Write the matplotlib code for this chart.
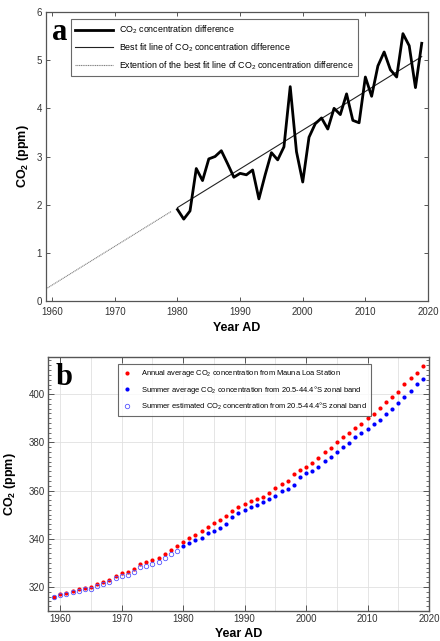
"""
Two-panel CO2 figure: (a) annual minus summer CO2 difference with its linear
trend, (b) Mauna Loa annual means vs. 20.5-44.4 S summer concentrations.
"""
import matplotlib
matplotlib.use('Agg')
import matplotlib.pyplot as plt
import numpy as np
from matplotlib.ticker import MultipleLocator

plt.rcParams['font.family'] = ['Liberation Sans', 'DejaVu Sans']
plt.rcParams['mathtext.fontset'] = 'custom'
plt.rcParams['mathtext.rm'] = 'Liberation Sans'
plt.rcParams['mathtext.it'] = 'Liberation Sans:italic'
plt.rcParams['mathtext.bf'] = 'Liberation Sans:bold'

# Mauna Loa annual mean CO2 (ppm), 1959-2019
years = np.arange(1959, 2020)
mauna_loa = [315.98, 316.91, 317.64, 318.45, 318.99, 319.62, 320.04, 321.37,
             322.18, 323.05, 324.62, 325.68, 326.32, 327.46, 329.68, 330.19,
             331.12, 332.03, 333.84, 335.41, 336.84, 338.76, 340.12, 341.48,
             343.15, 344.85, 346.35, 347.61, 349.31, 351.69, 353.20, 354.45,
             355.70, 356.54, 357.21, 358.96, 360.97, 362.74, 363.88, 366.84,
             368.54, 369.71, 371.32, 373.45, 375.98, 377.70, 379.98, 382.09,
             384.02, 385.83, 387.64, 390.10, 391.85, 394.06, 396.74, 398.81,
             401.01, 404.41, 406.76, 408.72, 411.66]

# summer average over the 20.5-44.4 S zonal band, 1980-2019
obs_years = np.arange(1980, 2020)
summer_avg = [336.86, 338.42, 339.61, 340.40, 342.35, 343.40, 344.61, 346.19,
              348.84, 350.63, 351.80, 353.08, 353.82, 355.09, 356.34, 357.89,
              359.81, 360.68, 362.39, 365.44, 367.24, 367.92, 369.77, 372.18,
              374.13, 375.98, 378.22, 379.72, 382.08, 383.94, 385.45, 387.60,
              389.18, 391.57, 394.01, 396.36, 398.86, 401.46, 404.29, 406.31]

# summer values estimated back in time, 1959-1979
est_years = np.arange(1959, 1980)
summer_est = [315.70, 316.55, 317.20, 317.93, 318.39, 318.94, 319.28, 320.53,
              321.26, 322.05, 323.54, 324.52, 325.09, 326.15, 328.29, 328.72,
              329.57, 330.40, 332.13, 333.62, 334.97]

# annual minus summer difference (ppm), 1980-2019
co2_diff = [1.90, 1.70, 1.87, 2.75, 2.50, 2.95, 3.00, 3.12, 2.85, 2.57,
            2.65, 2.62, 2.72, 2.12, 2.62, 3.08, 2.93, 3.20, 4.45, 3.10,
            2.47, 3.40, 3.68, 3.80, 3.57, 4.00, 3.87, 4.30, 3.75, 3.70,
            4.65, 4.25, 4.88, 5.17, 4.80, 4.65, 5.55, 5.30, 4.43, 5.35]

tick_col = '#333333'
spine_col = '#555555'
lab_fs = 7

fig = plt.figure(figsize=(4.4, 6.41), dpi=100)
ax1 = fig.add_axes([0.1045, 0.5304, 0.8682, 0.4509])
ax2 = fig.add_axes([0.109, 0.0468, 0.866, 0.3965])

# ---- panel a ----
slope, icpt = np.polyfit(obs_years, co2_diff, 1)
ext_x = np.array([1959, 1979])
ax1.plot(ext_x, slope * ext_x + icpt, linestyle=(0, (1, 0.6)), color='#808080',
         lw=0.8,
         label='Extention of the best fit line of CO$_2$ concentration difference')
ax1.plot(obs_years, slope * obs_years + icpt, '-', color='#222222', lw=0.8,
         label='Best fit line of CO$_2$ concentration difference')
ax1.plot(obs_years, co2_diff, '-', color='black', lw=2.0,
         label='CO$_2$ concentration difference')

ax1.set_xlim(1959, 2020)
ax1.set_ylim(0, 6)
ax1.xaxis.set_major_locator(MultipleLocator(10))
ax1.yaxis.set_major_locator(MultipleLocator(1))
ax1.tick_params(direction='in', top=True, right=True, length=3, width=0.7,
                colors=spine_col, labelcolor=tick_col, labelsize=lab_fs, pad=3)
ax1.tick_params(axis='x', pad=4.5)
for s in ax1.spines.values():
    s.set_color(spine_col)
    s.set_linewidth(0.9)
ax1.set_ylabel('CO$_\\mathbf{2}$ (ppm)', fontsize=9, fontweight='bold', labelpad=4)
ax1.set_xlabel('Year AD', fontsize=9, fontweight='bold', labelpad=3.5)

h, l = ax1.get_legend_handles_labels()
leg1 = ax1.legend(h[::-1], l[::-1], loc='upper left', bbox_to_anchor=(0.065, 0.975),
                  fontsize=6.4, frameon=True, fancybox=False, handlelength=4.3,
                  handletextpad=0.6, labelspacing=0.6, borderpad=0.5,
                  borderaxespad=0)
leg1.get_frame().set_edgecolor('#444444')
leg1.get_frame().set_linewidth(0.8)
ax1.text(0.015, 0.93, 'a', transform=ax1.transAxes, fontsize=22,
         fontweight='bold', family='Liberation Serif', va='center', ha='left')

# ---- panel b ----
ax2.plot(years, mauna_loa, 'o', color='red', ms=3.0, mec='none',
         label='Annual average CO$_2$ concentration from Mauna Loa Station')
ax2.plot(obs_years, summer_avg, 'o', color='blue', ms=3.0, mec='none',
         label='Summer average CO$_2$ concentration from 20.5-44.4\u00b0S zonal band')
ax2.plot(est_years, summer_est, 'o', mfc='none', mec='#5555ff', ms=3.2, mew=0.6,
         label='Summer estimated CO$_2$ concentration from 20.5-44.4\u00b0S zonal band')

ax2.set_xlim(1958, 2020)
ax2.set_ylim(310, 415.5)
ax2.xaxis.set_major_locator(MultipleLocator(10))
ax2.xaxis.set_minor_locator(MultipleLocator(5))
ax2.yaxis.set_major_locator(MultipleLocator(20))
ax2.yaxis.set_minor_locator(MultipleLocator(2))
ax2.grid(True, which='major', color='#e0e0e0', lw=0.6)
ax2.grid(True, which='minor', axis='x', color='#e0e0e0', lw=0.6)
ax2.set_axisbelow(True)
ax2.tick_params(which='major', direction='in', top=True, right=True, length=4,
                width=0.7, colors=spine_col, labelcolor=tick_col,
                labelsize=lab_fs, pad=2)
ax2.tick_params(which='minor', direction='in', top=False, right=True, bottom=False,
                length=2.2, width=0.6, colors=spine_col)
ax2.tick_params(axis='y', which='minor', left=True, right=True)
for s in ax2.spines.values():
    s.set_color(spine_col)
    s.set_linewidth(1.0)
ax2.set_ylabel('CO$_\\mathbf{2}$ (ppm)', fontsize=9, fontweight='bold', labelpad=8)
ax2.set_xlabel('Year AD', fontsize=9, fontweight='bold', labelpad=3)

leg2 = ax2.legend(loc='upper left', bbox_to_anchor=(0.185, 0.97), fontsize=5.4,
                  frameon=True, fancybox=False, handlelength=1.2,
                  handletextpad=1.3, labelspacing=0.65, borderpad=0.5,
                  borderaxespad=0)
leg2.get_frame().set_edgecolor('#444444')
leg2.get_frame().set_linewidth(0.8)
ax2.text(0.02, 0.92, 'b', transform=ax2.transAxes, fontsize=22,
         fontweight='bold', family='Liberation Serif', va='center', ha='left')

plt.savefig('out.png', dpi=100)
